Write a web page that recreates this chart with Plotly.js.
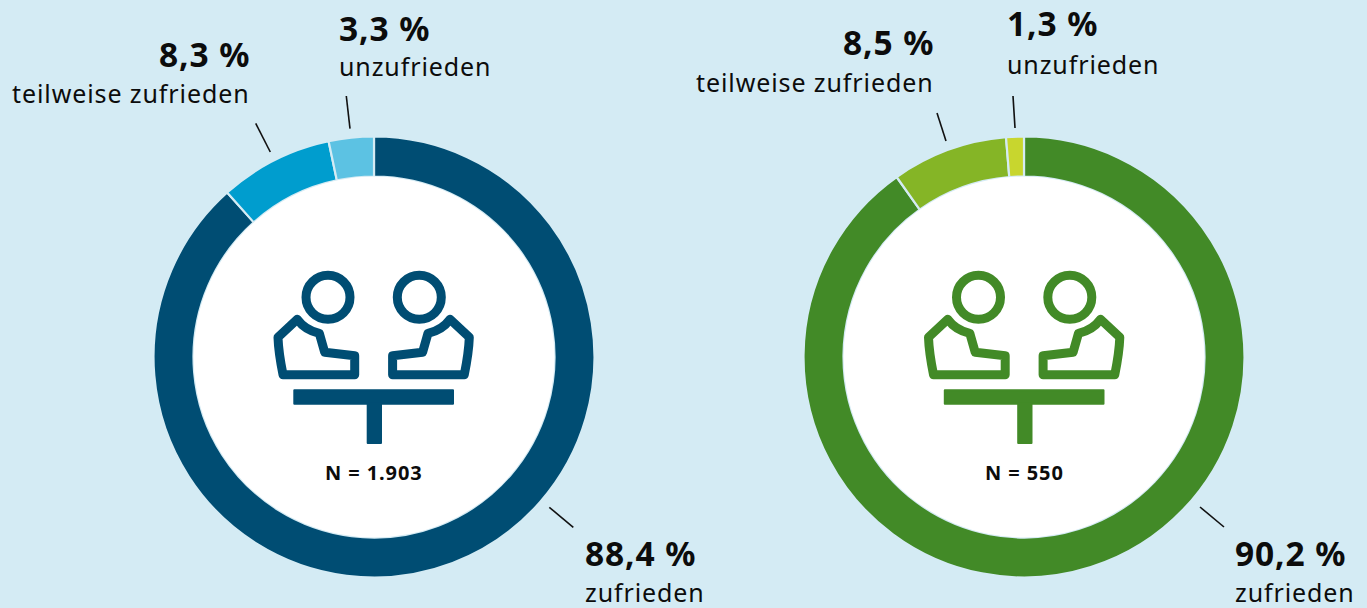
<!DOCTYPE html>
<html><head><meta charset="utf-8">
<script src="https://cdn.plot.ly/plotly-3.0.1.min.js"></script>
<style>
html,body{margin:0;padding:0;background:#d4ebf4;overflow:hidden}
.shapelayer path{stroke-linejoin:round}
.annotation-text{letter-spacing:.9px}
</style></head><body>
<div id="chart" style="width:1367px;height:608px"></div>
<script>
const categories = ["zufrieden", "teilweise zufrieden", "unzufrieden"];
const valuesLeft = [88.4, 8.3, 3.3];
const valuesRight = [90.2, 8.5, 1.3];
const colorsLeft = ["#004d73", "#009dce", "#5cc2e3"];
const colorsRight = ["#428a27", "#85b526", "#c8d62e"];
const nLeft = "N = 1.903";
const nRight = "N = 550";
const W = 1367, H = 608, BG = "#d4ebf4";
const FONT = '"Noto Sans", sans-serif';
const px = x => x / W, py = y => 1 - y / H;
const R = 220.5, RI = 180.5, CY = 357;
const CXL = 374, CXR = 1024, ICON_DX = 650.5;

function pie(values, colors, cx) {
  return {type: "pie", values, labels: categories, sort: false, direction: "clockwise", rotation: 0,
    hole: RI / R, textinfo: "none", hoverinfo: "label+percent", showlegend: false,
    marker: {colors, line: {color: BG, width: 2.2}},
    domain: {x: [px(cx - R), px(cx + R)], y: [py(CY + R), py(CY - R)]}};
}
function seg(x0, y0, x1, y1) {
  return {type: "line", xref: "paper", yref: "paper", x0: px(x0), y0: py(y0), x1: px(x1), y1: py(y1),
    line: {color: "#111111", width: 1.6}, layer: "above"};
}
function poly(d, color, fill) {
  let s = "";
  d.forEach(c => { s += c[0] + " " + c.slice(1).map((v, i) => i % 2 ? py(v) : px(v)).join(" ") + " "; });
  return {type: "path", xref: "paper", yref: "paper", path: s + "Z", layer: "above",
    fillcolor: fill ? color : "rgba(0,0,0,0)", line: {color, width: fill ? 2 : 9}};
}
function circle(cx, cy, r, fill, lineColor, w) {
  return {type: "circle", xref: "paper", yref: "paper", x0: px(cx - r), x1: px(cx + r), y0: py(cy + r), y1: py(cy - r),
    fillcolor: fill, line: {color: lineColor, width: w}, layer: "above"};
}
function icon(dx, color) {
  const body = m => {
    const X = x => m ? 747.3 - x + dx : x + dx;
    return [["M", X(283), 374.7], ["Q", X(278.5), 352, X(278), 337.3], ["L", X(297.3), 319.3],
      ["Q", X(305), 330, X(319.3), 333.3], ["L", X(324.7), 352.3], ["L", X(354.7), 355.7], ["L", X(354.7), 374.7]];
  };
  return [
    circle(328 + dx, 297.3, 22, "rgba(0,0,0,0)", color, 9),
    circle(419.3 + dx, 297.3, 22, "rgba(0,0,0,0)", color, 9),
    poly(body(false), color, false),
    poly(body(true), color, false),
    poly([["M", 294.3 + dx, 390.3], ["L", 453 + dx, 390.3], ["L", 453 + dx, 403.7], ["L", 294.3 + dx, 403.7]], color, true),
    poly([["M", 367.7 + dx, 404], ["L", 381 + dx, 404], ["L", 381 + dx, 443], ["L", 367.7 + dx, 443]], color, true)
  ];
}
function txt(text, x, y, anchor, size, bold) {
  return {text: bold ? "<b>" + text + "</b>" : text, xref: "paper", yref: "paper", x: px(x), y: py(y),
    xanchor: anchor, yanchor: "middle", showarrow: false, borderpad: 0,
    font: {family: FONT, size, color: "#0c0c0c"}};
}
const pct = v => v.toFixed(1).replace(".", ",") + " %";
const shapes = [
  circle(CXL, CY, RI, "#ffffff", "rgba(0,0,0,0)", 0),
  circle(CXR, CY, RI, "#ffffff", "rgba(0,0,0,0)", 0),
  ...icon(0, colorsLeft[0]), ...icon(ICON_DX, colorsRight[0]),
  seg(255.7, 123.3, 270.3, 152), seg(346.3, 96, 350, 128.7), seg(549.3, 507.3, 573.3, 527.3),
  seg(937, 113, 946, 141), seg(1013, 96, 1015, 128), seg(1200, 507, 1224, 527)
];
const BIG = 33.5, SMALL = 25;
const annotations = [
  txt(pct(valuesLeft[1]), 251, 54, "right", BIG, true), txt(categories[1], 251, 93, "right", SMALL),
  txt(pct(valuesLeft[2]), 338, 28, "left", BIG, true), txt(categories[2], 338, 66, "left", SMALL),
  txt(pct(valuesLeft[0]), 584, 553, "left", BIG, true), txt(categories[0], 584, 592, "left", SMALL),
  txt(pct(valuesRight[1]), 935, 42, "right", BIG, true), txt(categories[1], 935, 82, "right", SMALL),
  txt(pct(valuesRight[2]), 1006, 23, "left", BIG, true), txt(categories[2], 1006, 64, "left", SMALL),
  txt(pct(valuesRight[0]), 1234, 553, "left", BIG, true), txt(categories[0], 1234, 592, "left", SMALL),
  txt(nLeft, CXL, 472, "center", 20, true), txt(nRight, CXR, 472, "center", 20, true)
];
Plotly.newPlot("chart", [pie(valuesLeft, colorsLeft, CXL), pie(valuesRight, colorsRight, CXR)], {
  width: W, height: H, margin: {l: 0, r: 0, t: 0, b: 0}, paper_bgcolor: BG, plot_bgcolor: BG,
  showlegend: false, shapes, annotations
}, {displayModeBar: false});
</script></body></html>
